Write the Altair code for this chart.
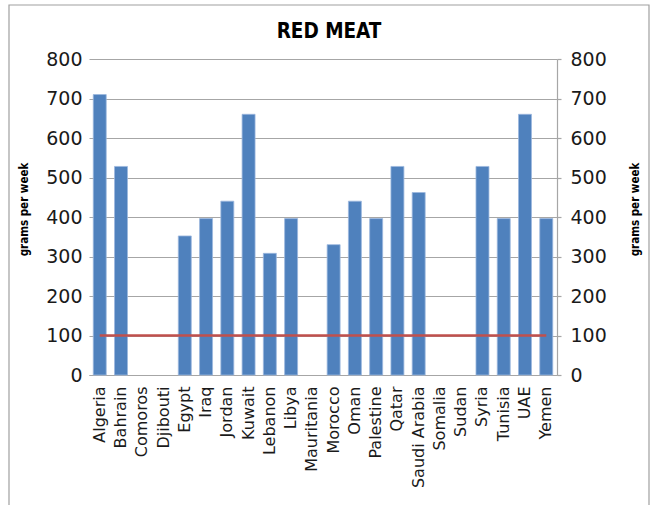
import altair as alt
import pandas as pd

# Weekly red meat consumption by country (grams per week)
countries = ["Algeria", "Bahrain", "Comoros", "Djibouti", "Egypt", "Iraq", "Jordan",
             "Kuwait", "Lebanon", "Libya", "Mauritania", "Morocco", "Oman", "Palestine",
             "Qatar", "Saudi Arabia", "Somalia", "Sudan", "Syria", "Tunisia", "UAE", "Yemen"]
grams = [710, 528, None, None, 352, 396, 440, 660, 308, 396, None, 330, 440, 396,
         528, 462, None, None, 528, 396, 660, 396]
# Recommended maximum, drawn as a reference line across all countries
recommended = [100] * len(countries)

FONT = "DejaVu Sans"
TITLE_FONT = "'DejaVu Sans Condensed', 'DejaVu Sans', sans-serif"
BLUE = "#4F81BD"
RED = "#C0504D"
GRID = "#A6A6A6"
TEXT = "#1a1a1a"

df = pd.DataFrame({"country": countries, "grams": grams, "limit": recommended})
frame_df = pd.DataFrame({"k": [0]})

x_enc = alt.X(
    "country:N",
    sort=countries,
    scale=alt.Scale(domain=countries, paddingInner=0.39, paddingOuter=0.2),
    axis=alt.Axis(
        title=None, labelAngle=270, labelAlign="right", labelBaseline="middle",
        labelFont=FONT, labelFontSize=16, labelColor=TEXT, labelPadding=11,
        ticks=False, domainColor=GRID, domainWidth=1.2, grid=False,
    ),
)

y_scale = alt.Scale(domain=[0, 800], nice=False)

bars = alt.Chart(df).mark_bar(color=BLUE, stroke="#9CB8DE", strokeWidth=0.8).encode(
    x=x_enc,
    y=alt.Y(
        "grams:Q", scale=y_scale,
        axis=alt.Axis(
            orient="left", values=list(range(0, 801, 100)), grid=True,
            gridColor=GRID, gridWidth=1.2, domain=False, ticks=False,
            labelFont=FONT, labelFontSize=19, labelColor=TEXT, labelPadding=7,
            title="grams per week", titleFont=TITLE_FONT, titleFontSize=11.5,
            titleFontWeight="bold", titleColor="#000000", titleAngle=270,
            titleAlign="center", titleBaseline="middle", titleX=-65, titleY=150,
        ),
    ),
)

limit_line = alt.Chart(df).mark_line(color=RED, strokeWidth=2.5).encode(
    x=alt.X("country:N", sort=countries),
    y=alt.Y(
        "limit:Q", scale=y_scale,
        axis=alt.Axis(
            orient="right", values=list(range(0, 801, 100)), grid=False,
            domain=True, domainColor=GRID, domainWidth=1.2,
            ticks=True, tickColor=GRID, tickSize=4, tickWidth=1.2,
            labelFont=FONT, labelFontSize=19, labelColor=TEXT, labelPadding=9,
            title="grams per week", titleFont=TITLE_FONT, titleFontSize=11.5,
            titleFontWeight="bold", titleColor="#000000", titleAngle=270,
            titleAlign="center", titleBaseline="middle", titleX=78, titleY=150,
        ),
    ),
)

# Outer chart border
frame = alt.Chart(frame_df).mark_rect(
    fill=None, stroke="#A0A0A0", strokeWidth=1.2, clip=False
).encode(
    x=alt.value(-80), x2=alt.value(560), y=alt.value(-54), y2=alt.value(480)
)

chart = (
    alt.layer(frame, bars, limit_line)
    .resolve_scale(y="independent")
    .properties(
        width=468, height=316,
        title=alt.TitleParams(
            "RED MEAT", font=TITLE_FONT, fontSize=20.5, fontWeight="bold", color="#000000",
            anchor="middle", offset=0, dy=38, dx=6,
        ),
        autosize=alt.AutoSizeParams(type="none"),
        padding={"left": 89, "top": 59, "right": 93, "bottom": 130},
        background="white",
    )
    .configure_view(stroke=None)
)

chart.save("out.html", embed_options={"renderer": "svg", "actions": False})
